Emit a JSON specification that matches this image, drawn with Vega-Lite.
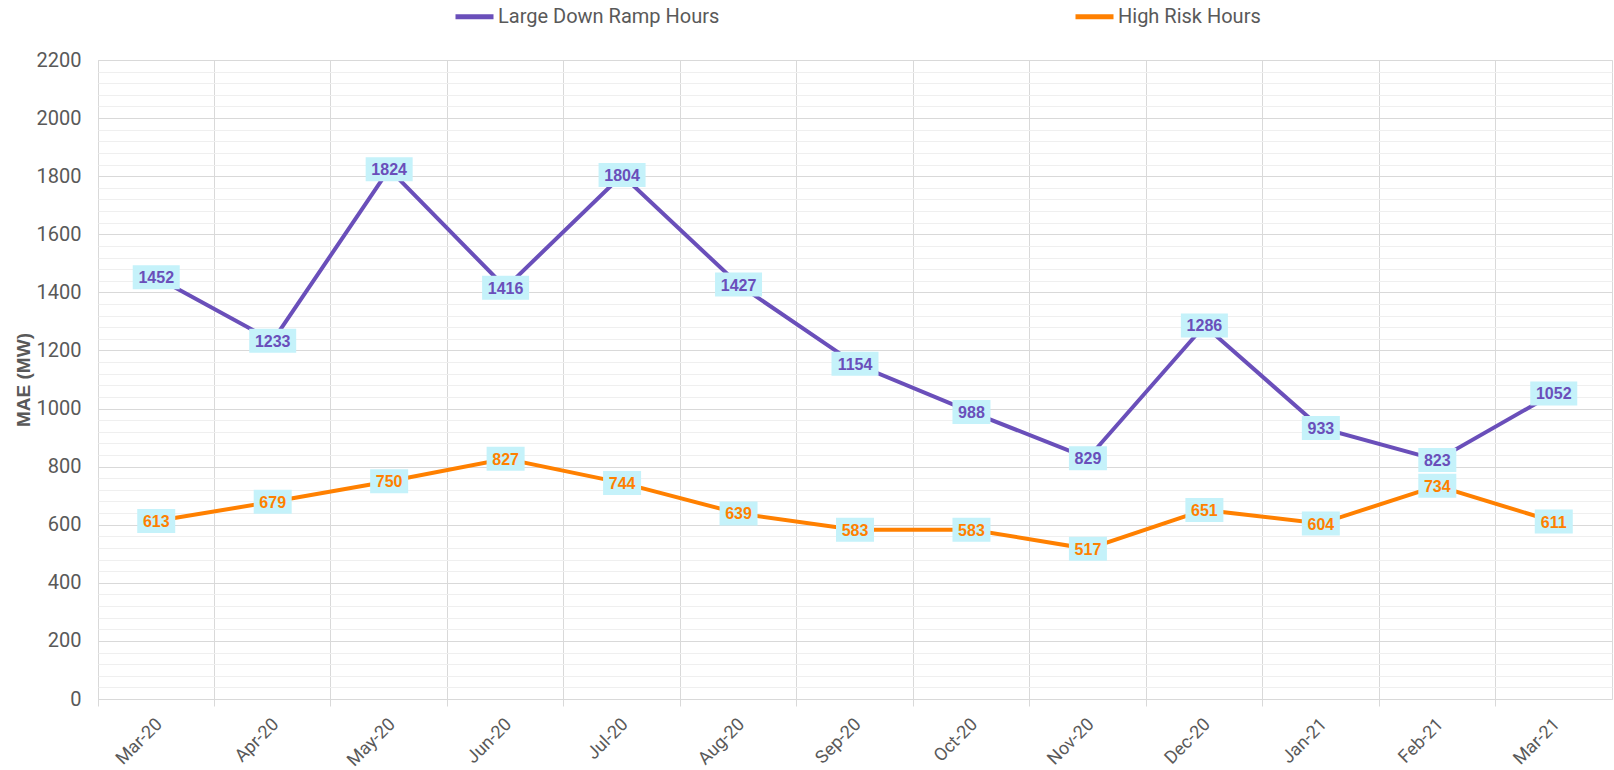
{
  "$schema": "https://vega.github.io/schema/vega-lite/v6.json",
  "width": 1514,
  "height": 639,
  "autosize": {"type": "none"},
  "padding": {"left": 98, "top": 60, "right": 2, "bottom": 71},
  "background": "white",
  "config": {"view": {"stroke": "#d9d9d9"}, "font": "Roboto"},
  "data": {"values": [
    {"month": "Mar-20", "series": "Large Down Ramp Hours", "value": 1452},
    {"month": "Apr-20", "series": "Large Down Ramp Hours", "value": 1233},
    {"month": "May-20", "series": "Large Down Ramp Hours", "value": 1824},
    {"month": "Jun-20", "series": "Large Down Ramp Hours", "value": 1416},
    {"month": "Jul-20", "series": "Large Down Ramp Hours", "value": 1804},
    {"month": "Aug-20", "series": "Large Down Ramp Hours", "value": 1427},
    {"month": "Sep-20", "series": "Large Down Ramp Hours", "value": 1154},
    {"month": "Oct-20", "series": "Large Down Ramp Hours", "value": 988},
    {"month": "Nov-20", "series": "Large Down Ramp Hours", "value": 829},
    {"month": "Dec-20", "series": "Large Down Ramp Hours", "value": 1286},
    {"month": "Jan-21", "series": "Large Down Ramp Hours", "value": 933},
    {"month": "Feb-21", "series": "Large Down Ramp Hours", "value": 823},
    {"month": "Mar-21", "series": "Large Down Ramp Hours", "value": 1052},
    {"month": "Mar-20", "series": "High Risk Hours", "value": 613},
    {"month": "Apr-20", "series": "High Risk Hours", "value": 679},
    {"month": "May-20", "series": "High Risk Hours", "value": 750},
    {"month": "Jun-20", "series": "High Risk Hours", "value": 827},
    {"month": "Jul-20", "series": "High Risk Hours", "value": 744},
    {"month": "Aug-20", "series": "High Risk Hours", "value": 639},
    {"month": "Sep-20", "series": "High Risk Hours", "value": 583},
    {"month": "Oct-20", "series": "High Risk Hours", "value": 583},
    {"month": "Nov-20", "series": "High Risk Hours", "value": 517},
    {"month": "Dec-20", "series": "High Risk Hours", "value": 651},
    {"month": "Jan-21", "series": "High Risk Hours", "value": 604},
    {"month": "Feb-21", "series": "High Risk Hours", "value": 734},
    {"month": "Mar-21", "series": "High Risk Hours", "value": 611}
  ]},
  "encoding": {
    "x": {
      "field": "month", "type": "ordinal", "sort": null,
      "scale": {"paddingInner": 0, "paddingOuter": 0},
      "axis": {
        "title": null, "bandPosition": 0, "labelAngle": -45, "labelOffset": -3,
        "labelAlign": "right", "labelBaseline": "top", "labelPadding": 9,
        "labelFontSize": 18, "labelColor": "#595959", "labelFont": "Roboto",
        "tickColor": "#d9d9d9", "tickSize": 7, "domain": false,
        "grid": true, "gridColor": "#d9d9d9"
      }
    },
    "y": {
      "field": "value", "type": "quantitative",
      "scale": {"domain": [0, 2200], "nice": false},
      "axis": {
        "title": "MAE (MW)", "titleFontSize": 19, "titleFontWeight": "bold", "titleColor": "#595959",
        "titlePadding": 3, "titleFont": "Liberation Sans",
        "values": [0,40,80,120,160,200,240,280,320,360,400,440,480,520,560,600,640,680,720,760,800,840,880,920,960,1000,1040,1080,1120,1160,1200,1240,1280,1320,1360,1400,1440,1480,1520,1560,1600,1640,1680,1720,1760,1800,1840,1880,1920,1960,2000,2040,2080,2120,2160,2200],
        "format": "d",
        "labelExpr": "datum.value % 200 === 0 ? datum.label : ''",
        "labelOverlap": false, "ticks": false, "domain": false, "labelPadding": 17,
        "labelFontSize": 20, "labelColor": "#595959",
        "gridColor": {"condition": {"test": "datum.value % 200 === 0", "value": "#d9d9d9"}, "value": "#efefef"}
      }
    }
  },
  "layer": [
    {
      "mark": {"type": "line", "strokeWidth": 4},
      "encoding": {
        "color": {
          "field": "series", "type": "nominal",
          "scale": {"domain": ["Large Down Ramp Hours", "High Risk Hours"], "range": ["#6A4FBA", "#FF8000"]},
          "legend": {
            "orient": "none", "legendX": 355, "legendY": -65, "direction": "horizontal",
            "title": null, "symbolType": "stroke", "symbolStrokeWidth": 5, "symbolSize": 1444,
            "labelFontSize": 20, "labelColor": "#595959", "labelFont": "Roboto", "labelLimit": 400,
            "columnPadding": 345, "labelOffset": 2
          }
        }
      }
    },
    {
      "mark": {"type": "bar", "color": "#C5F2FA", "yOffset": -12, "y2Offset": 12},
      "encoding": {
        "y2": {"field": "value"},
        "size": {"condition": {"test": "datum.value >= 1000", "value": 47}, "value": 38}
      }
    },
    {
      "mark": {"type": "text", "fontWeight": "bold", "fontSize": 16, "font": "Liberation Sans", "baseline": "middle", "dy": 1},
      "encoding": {
        "text": {"field": "value", "type": "quantitative", "format": "d"},
        "color": {"field": "series", "type": "nominal", "legend": null}
      }
    }
  ]
}
